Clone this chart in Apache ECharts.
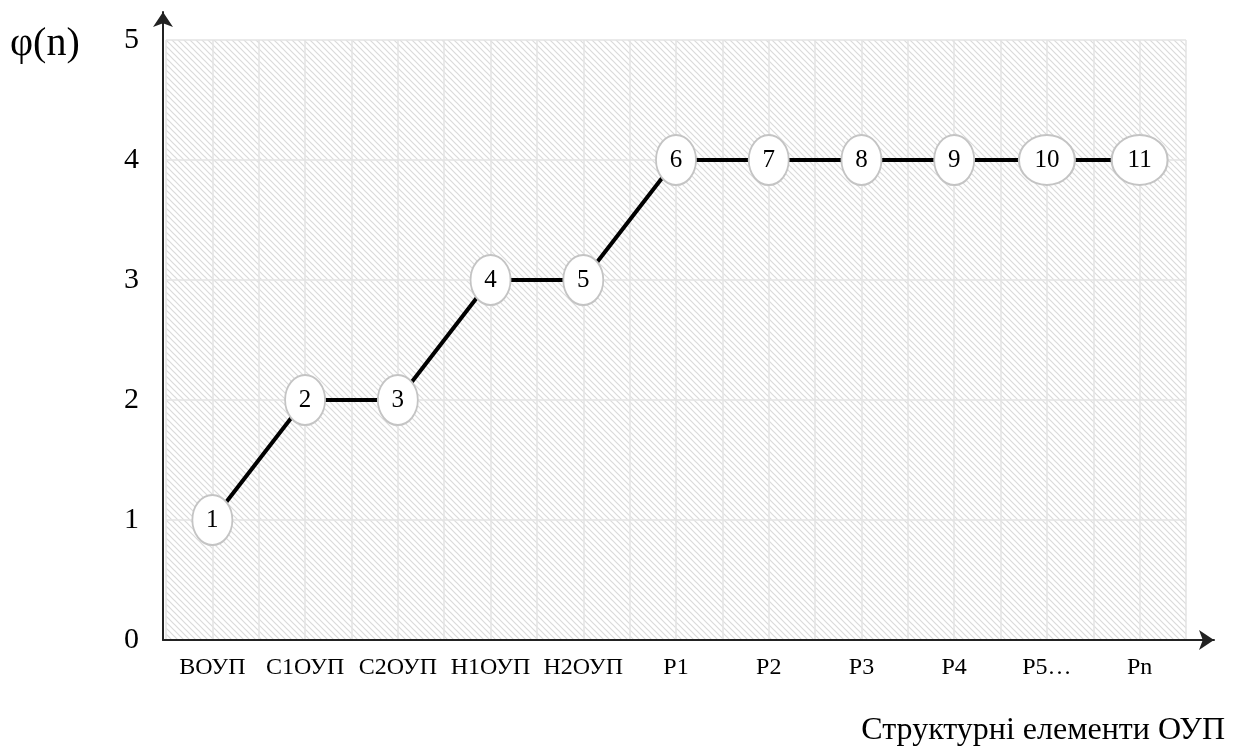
<!DOCTYPE html>
<html>
<head>
<meta charset="utf-8">
<script src="https://cdn.jsdelivr.net/npm/echarts@6/dist/echarts.min.js"></script>
<style>
  html, body { margin: 0; padding: 0; background: #fff; }
  #chart { width: 1242px; height: 749px; }
</style>
</head>
<body>
<div id="chart"></div>
<script>
// категорії по осі X
var categories = ['ВОУП', 'С1ОУП', 'С2ОУП', 'Н1ОУП', 'Н2ОУП', 'Р1', 'Р2', 'Р3', 'Р4', 'Р5…', 'Рn']
// значення φ(n)
var phiValues = [1, 2, 2, 3, 3, 4, 4, 4, 4, 4, 4]
// номери вузлів
var nodeLabels = ['1', '2', '3', '4', '5', '6', '7', '8', '9', '10', '11']
// мітки осі Y
var yTicks = [0, 1, 2, 3, 4, 5]

var serif = '"Liberation Serif", "DejaVu Serif", serif'

// штрихування фону
function makeHatch () {
  var n = 6
  var c = document.createElement('canvas')
  c.width = n
  c.height = n
  var ctx = c.getContext('2d')
  ctx.fillStyle = '#ffffff'
  ctx.fillRect(0, 0, n, n)
  ctx.strokeStyle = '#dadada'
  ctx.lineWidth = 1.2
  ctx.beginPath()
  ctx.moveTo(-1, -1); ctx.lineTo(n + 1, n + 1)
  ctx.moveTo(-1, n - 1); ctx.lineTo(1, n + 1)
  ctx.moveTo(n - 1, -1); ctx.lineTo(n + 1, 1)
  ctx.stroke()
  return c
}

var ellipse = 'path://M0,25 A20,25 0 1,1 40,25 A20,25 0 1,1 0,25 Z'

var chart = echarts.init(document.getElementById('chart'))
chart.setOption({
  animation: false,
  backgroundColor: '#fff',
  title: [
    {
      text: 'φ(n)',
      left: 10,
      top: 24,
      padding: 0,
      textStyle: { fontFamily: serif, fontSize: 40, fontWeight: 'normal', color: '#000' }
    },
    {
      text: 'Структурні елементи ОУП',
      right: 17,
      bottom: 2,
      padding: 0,
      textStyle: { fontFamily: serif, fontSize: 32, fontWeight: 'normal', color: '#000' }
    }
  ],
  grid: [
    {
      left: 166, right: 56, top: 40, bottom: 109,
      show: true,
      borderWidth: 0,
      backgroundColor: { image: makeHatch(), repeat: 'repeat' }
    },
    { left: 163, right: 28, top: 12, bottom: 109 }
  ],
  xAxis: [
    {
      type: 'category',
      gridIndex: 0,
      data: categories,
      boundaryGap: true,
      axisLine: { show: false },
      axisTick: { show: false },
      splitLine: { show: false },
      axisLabel: { interval: 0, margin: 16, fontFamily: serif, fontSize: 24, color: '#000' }
    },
    {
      // сітка кожні пів категорії
      type: 'value',
      gridIndex: 0,
      min: 0,
      max: categories.length * 2,
      interval: 1,
      axisLine: { show: false },
      axisTick: { show: false },
      axisLabel: { show: false },
      splitLine: { show: true, lineStyle: { color: '#e3e3e3', width: 1.5 } }
    },
    {
      type: 'value',
      gridIndex: 1,
      min: 0,
      max: 1,
      axisLine: {
        show: true,
        onZero: false,
        symbol: ['none', 'arrow'],
        symbolSize: [15, 15],
        lineStyle: { color: '#222', width: 2 }
      },
      axisTick: { show: false },
      axisLabel: { show: false },
      splitLine: { show: false }
    }
  ],
  yAxis: [
    {
      type: 'value',
      gridIndex: 0,
      min: yTicks[0],
      max: yTicks[yTicks.length - 1],
      interval: 1,
      axisLine: { show: false },
      axisTick: { show: false },
      axisLabel: { margin: 27, fontFamily: serif, fontSize: 30, color: '#000' },
      splitLine: { show: true, lineStyle: { color: '#e3e3e3', width: 1.5 } }
    },
    {
      type: 'value',
      gridIndex: 1,
      min: 0,
      max: 1,
      axisLine: {
        show: true,
        onZero: false,
        symbol: ['none', 'arrow'],
        symbolSize: [15, 15],
        lineStyle: { color: '#222', width: 2 }
      },
      axisTick: { show: false },
      axisLabel: { show: false },
      splitLine: { show: false }
    }
  ],
  series: [
    {
      type: 'line',
      xAxisIndex: 0,
      yAxisIndex: 0,
      data: phiValues,
      symbol: ellipse,
      symbolSize: function (val, params) {
        return nodeLabels[params.dataIndex].length > 1 ? [56, 50] : [40, 50]
      },
      symbolKeepAspect: false,
      showAllSymbol: true,
      lineStyle: { color: '#000', width: 4 },
      itemStyle: { color: '#fff', borderColor: '#c4c4c4', borderWidth: 2 },
      label: {
        show: true,
        position: 'inside',
        fontFamily: serif,
        fontSize: 25,
        color: '#000',
        formatter: function (p) { return nodeLabels[p.dataIndex] }
      },
      z: 3
    }
  ]
})
</script>
</body>
</html>
